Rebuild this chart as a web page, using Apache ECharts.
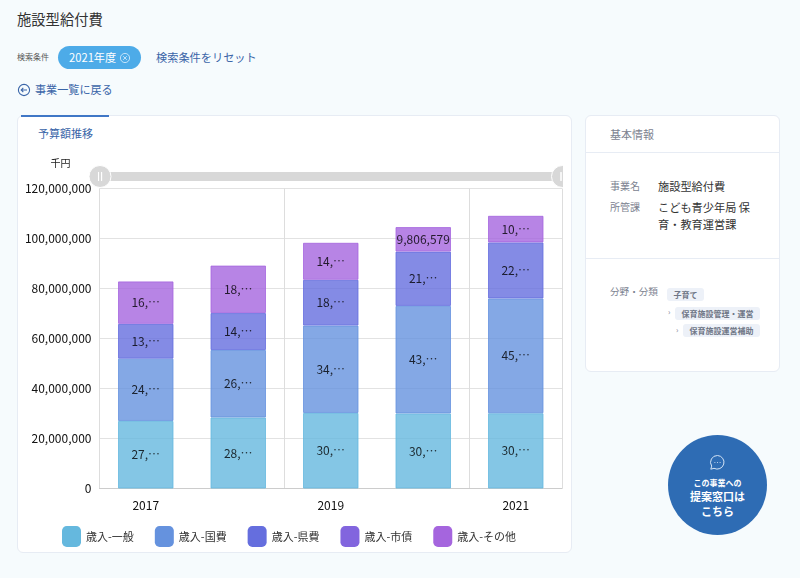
<!DOCTYPE html>
<html lang="ja">
<head>
<meta charset="utf-8">
<title>施設型給付費</title>
<script src="https://cdn.jsdelivr.net/npm/echarts@6/dist/echarts.min.js"></script>
<style>
  * { box-sizing: border-box; }
  html, body { margin: 0; width: 800px; height: 578px; overflow: hidden; background: #f6fbfd; }
  body { position: relative; font-family: "Noto Sans CJK JP", "Noto Sans", sans-serif; color: #333; }
  .abs { position: absolute; white-space: nowrap; line-height: 1; }
  .link { color: #3a65a8; }
  .card { position: absolute; background: #fff; border: 1px solid #e7ecf4; border-radius: 6px; }
  .tag { position: absolute; background: #edf1f8; border-radius: 3px; color: #6f7686; font-size: 8px; font-weight: 700; line-height: 13px; height: 13px; text-align: center; white-space: nowrap; }
  .label { color: #7c8290; font-size: 10px; }
  .value { color: #333; font-size: 11.2px; }
  hr { position: absolute; left: 586px; width: 193px; margin: 0; border: 0; border-top: 1px solid #e7ecf4; }
  #chart { position: absolute; left: 18px; top: 140px; width: 545px; height: 412px; }
  svg { position: absolute; }
</style>
</head>
<body>
<div class="abs" style="left:17px;top:12px;font-size:14.3px;">施設型給付費</div>
<div class="abs" style="left:17px;top:53px;font-size:8px;color:#555;">検索条件</div>
<div class="abs" style="left:58px;top:46px;width:83px;height:23px;border-radius:12px;background:#4dabe8;"></div>
<div class="abs" style="left:69px;top:52px;font-size:11.2px;color:#fff;">2021年度</div>
<svg style="left:119px;top:52px;" width="12" height="12" viewBox="0 0 12 12" fill="none" stroke="#cfe8fa" stroke-width="0.9"><circle cx="6" cy="6" r="4.6"/><path d="M4.2 4.2L7.8 7.8M7.8 4.2L4.2 7.8"/></svg>
<div class="abs link" style="left:156px;top:52px;font-size:11.2px;">検索条件をリセット</div>
<svg style="left:17px;top:83px;" width="14" height="14" viewBox="0 0 14 14" fill="none" stroke="#3a65a8" stroke-width="1.1"><circle cx="7" cy="7" r="5.6"/><path d="M10 7H4.2M6.3 4.9L4.2 7L6.3 9.1"/></svg>
<div class="abs link" style="left:35px;top:84px;font-size:11.1px;">事業一覧に戻る</div>

<div class="card" style="left:17px;top:115px;width:555px;height:438px;"></div>
<div class="abs" style="left:21px;top:115px;width:88px;height:2px;background:#4077c6;"></div>
<div class="abs link" style="left:38px;top:128px;font-size:11px;">予算額推移</div>
<div id="chart"></div>

<div class="card" style="left:585px;top:115px;width:195px;height:257px;"></div>
<div class="abs label" style="left:610px;top:129px;font-size:11px;">基本情報</div>
<hr style="top:152px;">
<div class="abs label" style="left:610px;top:181px;">事業名</div>
<div class="abs value" style="left:658px;top:181px;">施設型給付費</div>
<div class="abs label" style="left:610px;top:202px;">所管課</div>
<div class="abs value" style="left:658px;top:202px;">こども青少年局 保</div>
<div class="abs value" style="left:658px;top:219px;">育・教育運営課</div>
<hr style="top:258px;">
<div class="abs label" style="left:610px;top:287px;font-size:9.6px;">分野・分類</div>
<div class="tag" style="left:667px;top:288px;width:37px;">子育て</div>
<div class="abs label" style="left:668px;top:308px;font-size:8px;">›</div>
<div class="tag" style="left:675px;top:307px;width:85px;">保育施設管理・運営</div>
<div class="abs label" style="left:676px;top:326px;font-size:8px;">›</div>
<div class="tag" style="left:683px;top:324px;width:77px;">保育施設運営補助</div>

<div class="abs" style="left:668px;top:435px;width:99px;height:100px;border-radius:50%;background:#2e6cb4;"></div>
<svg style="left:709px;top:454px;" width="17" height="17" viewBox="0 0 17 17" fill="none" stroke="#d5e4f5" stroke-width="1"><path d="M8.5 1.5A6.8 6.8 0 1 1 5 14.3L1.8 15.2L2.7 12.1A6.8 6.8 0 0 1 8.5 1.5Z"/><path d="M5.5 8.5h.8M8.1 8.5h.8M10.7 8.5h.8" stroke-width="1.2"/></svg>
<div class="abs" style="left:668px;top:479px;width:99px;text-align:center;color:#fff;font-size:8px;font-weight:700;">この事業への</div>
<div class="abs" style="left:668px;top:491px;width:99px;text-align:center;color:#fff;font-size:11px;font-weight:700;">提案窓口は</div>
<div class="abs" style="left:668px;top:506px;width:99px;text-align:center;color:#fff;font-size:11px;font-weight:700;">こちら</div>

<script>
// 年度
const years = ["2017", "2018", "2019", "2020", "2021"];
// 千円
const ippan = [27012480, 28405130, 30207640, 30018250, 30096420];
const kokuhi = [24923160, 26987450, 34956210, 43012870, 45934160];
const kenhi = [13918540, 14790320, 18320940, 21730460, 22415780];
const shisai = [null, null, null, null, null];
const sonota = [16984270, 18985610, 14802380, 9806579, 10628930];

const seriesNames = ["歳入-一般", "歳入-国費", "歳入-県費", "歳入-市債", "歳入-その他"];
const seriesColors = ["#65b8de", "#6592de", "#656ede", "#8265de", "#a565de"];
const seriesValues = [ippan, kokuhi, kenhi, shisai, sonota];
const yTicks = { min: 0, max: 120000000, interval: 20000000 };

// 長い値は省略して表示
function shortLabel(params) {
  const text = Number(params.value).toLocaleString("en-US");
  return text.length > 9 ? text.slice(0, 3) + "…" : text;
}

const handlePath = "path://M50 0A50 50 0 1 1 50 100A50 50 0 1 1 50 0Z" +
  "M43 30L43 70L43.5 70L43.5 30ZM57 30L57 70L57.5 70L57.5 30Z";

const myChart = echarts.init(document.getElementById("chart"));
myChart.setOption({
  animation: false,
  textStyle: { fontFamily: '"Noto Sans CJK JP", sans-serif' },
  grid: { left: 81.5, right: 1, top: 48.5, height: 300 },
  dataZoom: [{
    type: "slider",
    xAxisIndex: 0,
    start: 0,
    end: 100,
    top: 32,
    height: 9,
    left: 79.5,
    right: 1,
    showDetail: false,
    showDataShadow: false,
    brushSelect: false,
    moveHandleSize: 0,
    backgroundColor: "#d8d8d8",
    fillerColor: "#d8d8d8",
    borderColor: "transparent",
    handleIcon: handlePath,
    handleSize: 22,
    handleStyle: { color: "#d8d8d8", borderColor: "#ffffff", borderWidth: 1 }
  }],
  xAxis: {
    type: "category",
    data: years,
    axisTick: { show: false },
    axisLine: { lineStyle: { color: "#cccccc" } },
    axisLabel: { color: "#111", fontSize: 12, margin: 11, interval: 1 },
    splitLine: { show: true, interval: 1, lineStyle: { color: "#dddddd" } }
  },
  yAxis: {
    type: "value",
    min: yTicks.min,
    max: yTicks.max,
    interval: yTicks.interval,
    name: "千円",
    nameGap: 20,
    nameTextStyle: { color: "#222", fontSize: 10, align: "right", padding: [0, 29, 0, 0] },
    axisLine: { show: false },
    axisTick: { show: false },
    axisLabel: { color: "#111", fontSize: 12, margin: 8, formatter: (v) => v.toLocaleString("en-US") },
    splitLine: { lineStyle: { color: "#e2e2e2" } }
  },
  legend: {
    left: 39,
    top: 381,
    itemWidth: 19,
    itemHeight: 21,
    itemGap: 21,
    icon: "roundRect",
    itemStyle: { opacity: 1, borderWidth: 0 },
    textStyle: { color: "#333", fontSize: 11 },
    data: seriesNames
  },
  series: seriesNames.map((name, i) => ({
    name,
    type: "bar",
    stack: "total",
    barWidth: "60%",
    data: seriesValues[i],
    itemStyle: { color: seriesColors[i], opacity: 0.8, borderColor: seriesColors[i], borderWidth: 1 },
    label: { show: true, position: "inside", color: "#000", fontSize: 12, formatter: shortLabel }
  }))
});
</script>
</body>
</html>
